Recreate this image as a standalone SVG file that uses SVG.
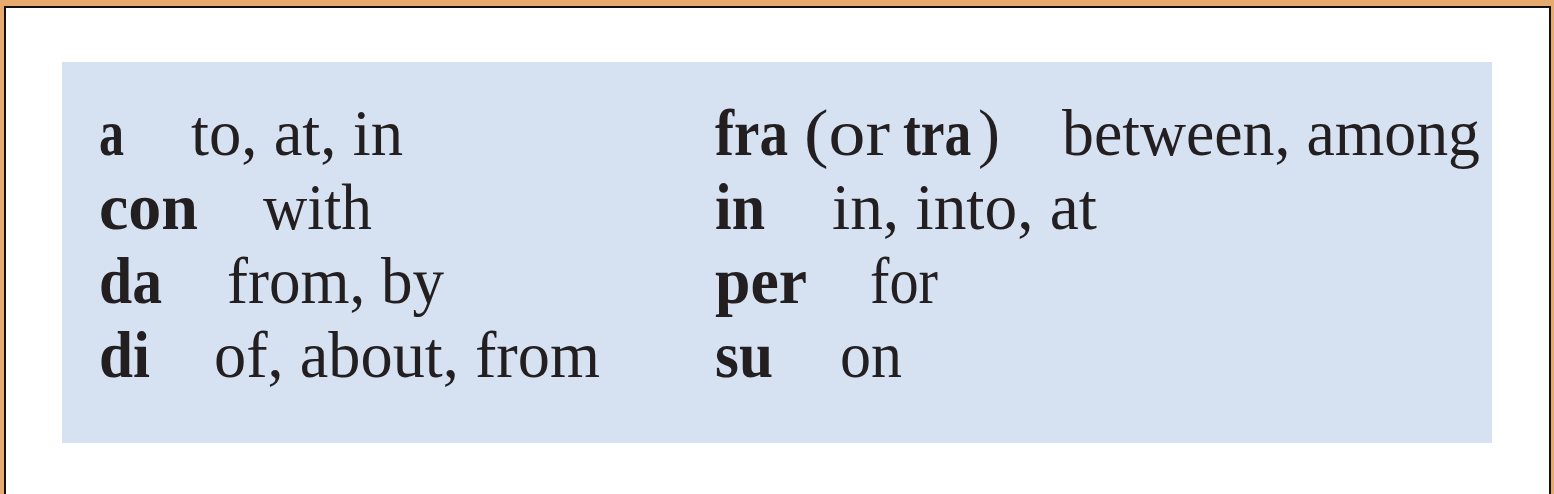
<svg xmlns="http://www.w3.org/2000/svg" width="1554" height="494" viewBox="0 0 1554 494">
<style>
text{font-family:"Liberation Serif","Times New Roman",serif;font-size:66px;fill:#231f20}
.b{font-weight:bold}
</style>
<rect x="0" y="0" width="1554" height="494" fill="#e6aa6e"/>
<rect x="4" y="6" width="1547" height="500" fill="#111"/>
<rect x="6" y="8" width="1543" height="500" fill="#ffffff"/>
<g id="panel">
<rect x="62" y="62" width="1430" height="381" fill="#d6e1f2"/>
</g>
<g id="row-a">
<text class="b" x="99" y="155" textLength="25" lengthAdjust="spacingAndGlyphs">a</text>
<text x="191" y="155" textLength="212" lengthAdjust="spacingAndGlyphs">to, at, in</text>
</g>
<g id="row-con">
<text class="b" x="99" y="229" textLength="99" lengthAdjust="spacingAndGlyphs">con</text>
<text x="263" y="229" textLength="109" lengthAdjust="spacingAndGlyphs">with</text>
</g>
<g id="row-da">
<text class="b" x="99" y="303" textLength="63" lengthAdjust="spacingAndGlyphs">da</text>
<text x="227" y="303" textLength="217" lengthAdjust="spacingAndGlyphs">from, by</text>
</g>
<g id="row-di">
<text class="b" x="99" y="377" textLength="51" lengthAdjust="spacingAndGlyphs">di</text>
<text x="214" y="377" textLength="386" lengthAdjust="spacingAndGlyphs">of, about, from</text>
</g>
<g id="row-fra">
<text class="b" x="715" y="155" textLength="73" lengthAdjust="spacingAndGlyphs">fra</text>
<text x="804" y="155" textLength="86" lengthAdjust="spacingAndGlyphs">(or</text>
<text class="b" transform="translate(903,155) scale(0.81,1)">tra</text>
<text x="978" y="155">)</text>
<text x="1062" y="155" textLength="418" lengthAdjust="spacingAndGlyphs">between, among</text>
</g>
<g id="row-in">
<text class="b" x="715" y="229" textLength="50" lengthAdjust="spacingAndGlyphs">in</text>
<text x="832" y="229" textLength="265" lengthAdjust="spacingAndGlyphs">in, into, at</text>
</g>
<g id="row-per">
<text class="b" x="715" y="303" textLength="92" lengthAdjust="spacingAndGlyphs">per</text>
<text x="870" y="303" textLength="68" lengthAdjust="spacingAndGlyphs">for</text>
</g>
<g id="row-su">
<text class="b" x="715" y="377" textLength="58" lengthAdjust="spacingAndGlyphs">su</text>
<text x="840" y="377" textLength="62" lengthAdjust="spacingAndGlyphs">on</text>
</g>
</svg>
